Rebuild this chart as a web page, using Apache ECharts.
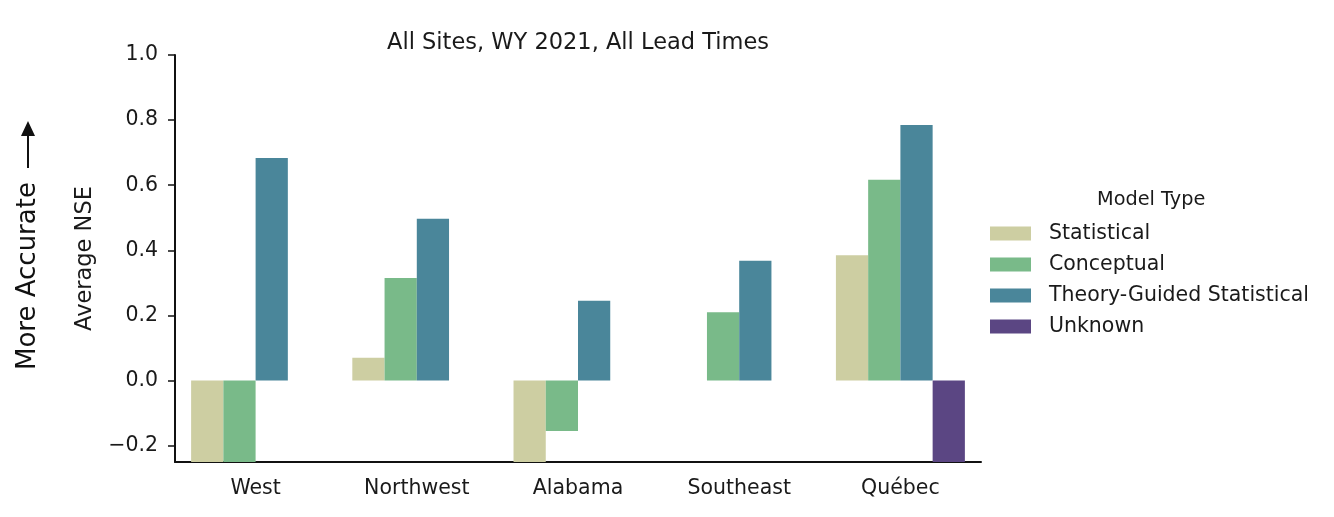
<!DOCTYPE html>
<html>
<head>
<meta charset="utf-8">
<script src="https://cdn.jsdelivr.net/npm/echarts@6/dist/echarts.min.js"></script>
<style>
  html, body { margin: 0; padding: 0; background: #fff; }
  #chart { width: 1334px; height: 517px; }
</style>
</head>
<body>
<div id="chart"></div>
<script>
// regions on the x axis
const regions = ['West', 'Northwest', 'Alabama', 'Southeast', 'Québec'];

// average NSE per model type (values below -0.25 are cut off in the picture)
const statistical = [-0.3, 0.07, -0.3, null, 0.385];
const conceptual = [-0.3, 0.315, -0.155, 0.21, 0.617];
const theoryGuided = [0.684, 0.497, 0.245, 0.368, 0.785];
const unknown = [null, null, null, null, -0.3];

const yTicks = [-0.2, 0, 0.2, 0.4, 0.6, 0.8, 1.0];

const font = 'DejaVu Sans';

const chartDom = document.getElementById('chart');
const chart = echarts.init(chartDom, null, {renderer: 'canvas'});

const bar = (name, data, color) => ({
  name,
  type: 'bar',
  data,
  barGap: '0%',
  barCategoryGap: '20%',
  itemStyle: {color},
  clip: true,
});

const options = {
  animation: false,
  title: {
    text: 'All Sites, WY 2021, All Lead Times',
    left: 573,
    textAlign: 'center',
    top: 27,
    textStyle: {fontFamily: font, fontSize: 22.5, fontWeight: 'normal', color: '#1a1a1a'},
  },
  grid: {left: 175, right: 353, top: 55, bottom: 55, containLabel: false},
  legend: {
    orient: 'vertical',
    left: 985,
    top: 217,
    icon: 'rect',
    itemWidth: 41,
    itemHeight: 14,
    itemGap: 8,
    textStyle: {fontFamily: font, fontSize: 20.5, color: '#1a1a1a', padding: [0, 0, 0, 13], lineHeight: 23},
    data: ['Statistical', 'Conceptual', 'Theory-Guided Statistical', 'Unknown'],
  },
  xAxis: {
    type: 'category',
    data: regions,
    axisLine: {onZero: false, lineStyle: {color: '#111', width: 2}},
    axisTick: {alignWithLabel: true, length: 7, lineStyle: {color: '#111', width: 1.5}},
    axisLabel: {fontFamily: font, fontSize: 20.5, color: '#1a1a1a', margin: 16},
  },
  yAxis: {
    type: 'value',
    min: -0.25,
    max: 1.0,
    name: 'Average NSE',
    nameLocation: 'middle',
    nameGap: 78,
    nameMoveOverlap: false,
    nameTextStyle: {fontFamily: font, fontSize: 22.5, color: '#1a1a1a'},
    splitLine: {show: false},
    axisLine: {show: true, lineStyle: {color: '#111', width: 2}},
    axisTick: {show: true, customValues: yTicks, length: 7, lineStyle: {color: '#111', width: 1.5}},
    axisLabel: {
      customValues: yTicks,
      fontFamily: font,
      fontSize: 20.5,
      color: '#1a1a1a',
      margin: 17,
      formatter: (v) => v.toFixed(1).replace('-', '\u2212'),
    },
  },
  graphic: [
    {
      type: 'text',
      left: 1097,
      top: 190,
      style: {text: 'Model Type', font: `19.3px "${font}"`, fill: '#1a1a1a'},
    },
    {
      type: 'text',
      x: 28,
      y: 370,
      rotation: Math.PI / 2,
      style: {
        text: 'More Accurate',
        font: `26px "${font}"`,
        fill: '#111',
        align: 'left',
        verticalAlign: 'middle',
      },
    },
    {
      type: 'line',
      shape: {x1: 28, y1: 168, x2: 28, y2: 132},
      style: {stroke: '#111', lineWidth: 2},
    },
    {
      type: 'polygon',
      shape: {points: [[21, 136], [35, 136], [28, 121]]},
      style: {fill: '#111'},
    },
  ],
  series: [
    bar('Statistical', statistical, '#cdcea2'),
    bar('Conceptual', conceptual, '#79ba89'),
    bar('Theory-Guided Statistical', theoryGuided, '#4a869a'),
    bar('Unknown', unknown, '#5b4683'),
  ],
};

chart.setOption(options);
window.addEventListener('resize', chart.resize);
</script>
</body>
</html>
